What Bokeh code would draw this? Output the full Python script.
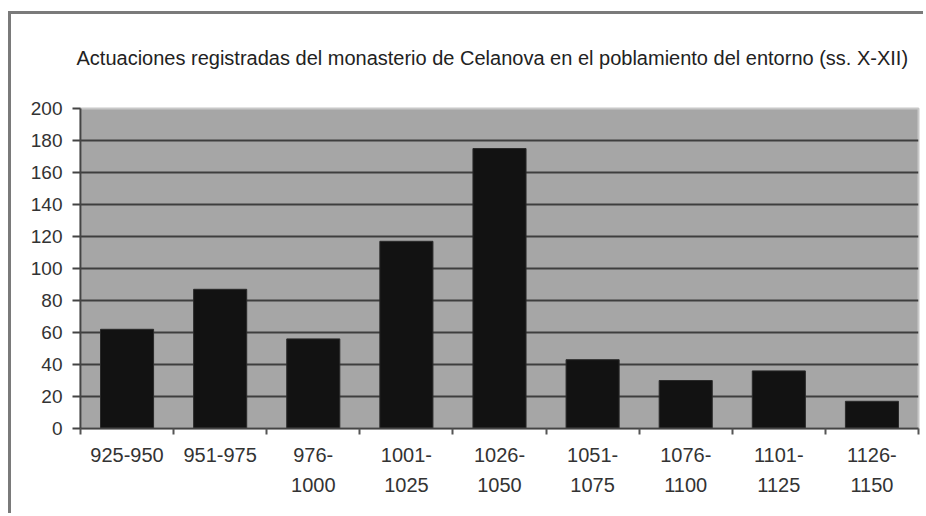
from bokeh.plotting import figure
from bokeh.models import Range1d, FixedTicker
from bokeh.embed import file_html
from bokeh.resources import INLINE

categories = ["925-950", "951-975", "976-\n1000", "1001-\n1025", "1026-\n1050",
              "1051-\n1075", "1076-\n1100", "1101-\n1125", "1126-\n1150"]
values = [62, 87, 56, 117, 175, 43, 30, 36, 17]
y_ticks = [0, 20, 40, 60, 80, 100, 120, 140, 160, 180, 200]
title_text = "Actuaciones registradas del monasterio de Celanova en el poblamiento del entorno (ss. X-XII)"

n = len(categories)
centers = [i + 0.5 for i in range(n)]

p = figure(width=915, height=502, output_backend="svg", toolbar_location=None,
           x_range=Range1d(0, n), y_range=Range1d(0, 200),
           min_border_left=69, min_border_right=8, min_border_top=94, min_border_bottom=88)
p.styles = {"margin-left": "8px", "margin-top": "11px",
            "border-left": "3px solid #7a7a7a", "border-top": "3px solid #7a7a7a"}
p.background_fill_color = "#a6a6a6"
p.border_fill_color = "white"
p.outline_line_color = "#c8c8c8"
p.outline_line_width = 2

p.title.text = title_text + "\n "
p.title.align = "left"
p.title.offset = -4
p.title.text_font = "Liberation Sans"
p.title.text_font_size = "20px"
p.title.text_font_style = "normal"
p.title.text_color = "#222222"
p.title.standoff = 36

p.vbar(x=centers, top=values, width=0.57, bottom=0, fill_color="#121212",
       line_color="#2a2a2a", line_width=1)

p.xgrid.visible = False
p.ygrid.ticker = FixedTicker(ticks=y_ticks)
p.ygrid.grid_line_color = "#3e3e3e"
p.ygrid.grid_line_width = 2

yax = p.yaxis[0]
yax.ticker = FixedTicker(ticks=y_ticks)
yax.axis_line_color = "#444444"
yax.axis_line_width = 2
yax.major_tick_line_color = "#444444"
yax.major_tick_line_width = 2
yax.major_tick_out = 8
yax.major_tick_in = 0
yax.minor_tick_line_color = None
yax.major_label_text_font = "Liberation Sans"
yax.major_label_text_font_size = "19px"
yax.major_label_text_color = "#333333"
yax.major_label_standoff = 10

xax = p.xaxis[0]
xax.ticker = FixedTicker(ticks=centers, minor_ticks=list(range(n + 1)))
xax.major_label_overrides = {c: lab for c, lab in zip(centers, categories)}
xax.axis_line_color = "#444444"
xax.axis_line_width = 2
xax.major_tick_line_color = None
xax.major_tick_out = 6
xax.minor_tick_line_color = "#555555"
xax.minor_tick_line_width = 2
xax.minor_tick_out = 6
xax.minor_tick_in = 0
xax.major_label_text_font = "Liberation Sans"
xax.major_label_text_font_size = "20px"
xax.major_label_text_line_height = 1.4
xax.major_label_text_color = "#333333"
xax.major_label_standoff = 9

open("out.html", "w").write(file_html(p, INLINE))
